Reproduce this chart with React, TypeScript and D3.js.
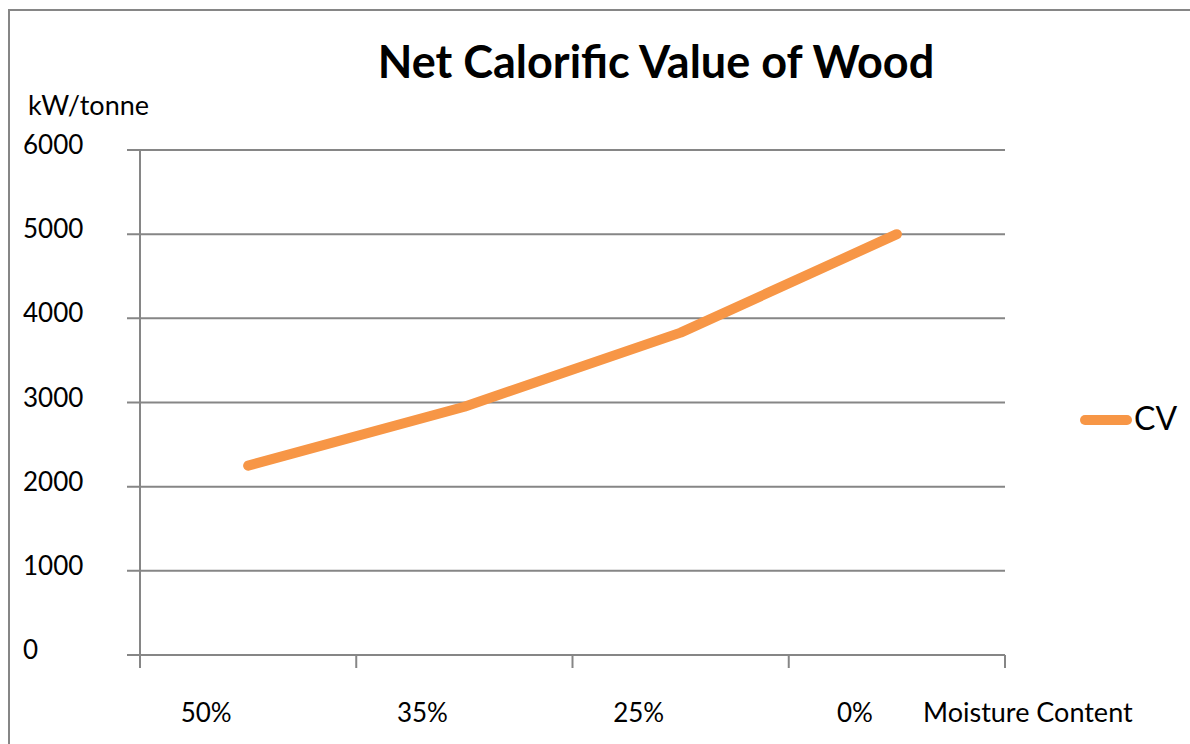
import React from "react";
import * as d3 from "d3";

const categories = ["50%", "35%", "25%", "0%"];
const cvValues = [2250, 2950, 3830, 5000];
const yTicks = [0, 1000, 2000, 3000, 4000, 5000, 6000];

const W = 1190;
const H = 744;
const left = 140;
const right = 1005;
const top = 150;
const bottom = 655;
const font = "Lato, 'Open Sans', sans-serif";
const gridColor = "#868686";
const lineColor = "#F79646";

export default function App() {
  const x = d3.scaleBand<string>().domain(categories).range([left, right]);
  const y = d3.scaleLinear().domain([0, 6000]).range([bottom, top]);
  const line = d3
    .line<number>()
    .x((_, i) => (x(categories[i]) as number) + x.bandwidth() / 2)
    .y((d) => y(d))
    .curve(d3.curveLinear);

  const tickXs = [...categories.map((c) => x(c) as number), right];

  return (
    <svg
      width={W}
      height={H}
      style={{ position: "absolute", left: 0, top: 0, background: "#fff" }}
    >
      <rect x={9} y={10} width={W + 20} height={H + 20} fill="#fff" stroke={gridColor} strokeWidth={2} />
      <text x={656} y={78} textAnchor="middle" fontFamily={font} fontWeight={700} fontSize={45} fill="#000">
        Net Calorific Value of Wood
      </text>
      <text x={28} y={115} fontFamily={font} fontSize={27} fill="#000">
        kW/tonne
      </text>
      {yTicks.map((t) => (
        <g key={t}>
          <line x1={127} x2={right} y1={y(t)} y2={y(t)} stroke={gridColor} strokeWidth={2} />
          <text x={23} y={y(t) + 4} fontFamily={font} fontSize={26} fill="#000">
            {t}
          </text>
        </g>
      ))}
      <line x1={left} x2={left} y1={top} y2={668} stroke={gridColor} strokeWidth={2} />
      {tickXs.map((tx, i) => (
        <line key={i} x1={tx} x2={tx} y1={bottom} y2={668} stroke={gridColor} strokeWidth={2} />
      ))}
      {categories.map((c) => (
        <text
          key={c}
          x={(x(c) as number) + x.bandwidth() / 2 - 42}
          y={722}
          textAnchor="middle"
          fontFamily={font}
          fontSize={26}
          fill="#000"
        >
          {c}
        </text>
      ))}
      <text x={923} y={722} fontFamily={font} fontSize={27} fill="#000">
        Moisture Content
      </text>
      <path
        d={line(cvValues) as string}
        fill="none"
        stroke={lineColor}
        strokeWidth={10}
        strokeLinecap="round"
        strokeLinejoin="round"
      />
      <line x1={1085} x2={1127} y1={420} y2={420} stroke={lineColor} strokeWidth={10} strokeLinecap="round" />
      <text x={1134} y={430} fontFamily={font} fontSize={32} fill="#000">
        CV
      </text>
    </svg>
  );
}
